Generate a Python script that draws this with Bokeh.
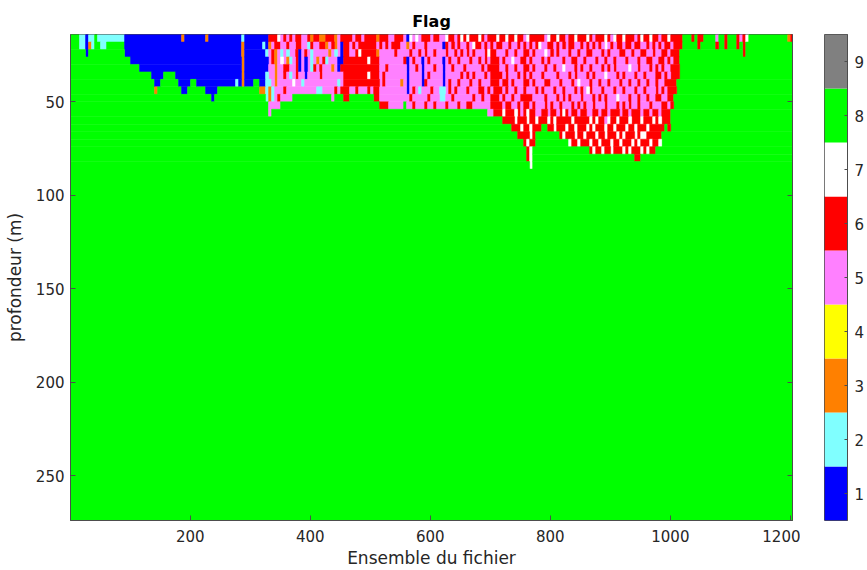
import numpy as np
from bokeh.plotting import figure
from bokeh.models import Range1d, FixedTicker, LinearAxis, ColumnDataSource
from bokeh.layouts import row
from bokeh.embed import file_html
from bokeh.resources import INLINE

# Flag classes and their colours
FLAG_VALUES = [1, 2, 3, 4, 5, 6, 7, 8, 9]
FLAG_COLORS = ["#0000ff", "#80ffff", "#ff8000", "#ffff00", "#ff80ff",
               "#ff0000", "#ffffff", "#00ff00", "#808080"]

# Grid layout: ensembles grouped 5 by 5, depth bins of 4 m from 14 m
FIRST_EDGE = 0.5
LAST_EDGE = 1203.5
ENSEMBLES_PER_CELL = 5
DEPTH_TOP = 14.0
DEPTH_BOTTOM = 274.0
BIN_SIZE = 4.0
N_BINS = 65
N_UPPER = 18
FILL_FLAG = 8

X_TICKS = [200, 400, 600, 800, 1000, 1200]
Y_TICKS = [50, 100, 150, 200, 250]

# Upper bins (one string per 4 m bin, one digit per cell), per longitudinal block.
# Missing rows / trailing cells are flag 8.
WEST_BINS = [  # cells 0-65
    "88822 12282 22222 2221 11111 11111 11111 11131 11111 13111 11111 11121 11111 11",
    "88822 13288 22888 8881 11111 11111 11111 11111 11111 11111 11111 11131 11111 21",
    "88888 18888 88888 8881 11111 11111 11111 11111 11111 11111 11111 11131 11111 12",
    "88888 88888 88888 8888 81111 11111 11111 11111 11111 11111 11111 11131 11111 11",
    "88888 88888 88888 8888 88881 11111 11111 11111 11111 11111 11111 11131 11111 11",
    "88888 88888 88888 8888 88888 88811 11888 81111 11111 11111 11111 11131 11111 12",
    "88888 88888 88888 8888 88888 88881 18888 88111 18811 11111 11111 12131 11881 12",
    "88888 88888 88888 8888 88888 88883 88888 88811 88888 81111 88888 88888 88883 32",
    "88888 88888 88888 8888 88888 88888 88888 88888 88888 88818 88888 88888 88888 82",
]
TRANSITION_BINS = [  # cells 66-86
    "66675 65656 65563 66336 6",
    "35665 56556 65526 55663 5",
    "56352 52556 15652 55555 3",
    "56357 53256 15152 53562 5",
    "55355 66556 15152 65655 5",
    "55355 65256 55155 55655 5",
    "25355 55575 52555 55555 5",
    "32555 65555 55555 52255 5",
    "32565 55588 88888 88888 8",
    "55558 88888 88888 88888 8",
    "58888 88888 88888 88888 8",
]
CENTRAL_BINS = [  # cells 87-130
    "63566 66566 56666 36665 56665 17575 66656 65576 6567",
    "63516 65656 66666 56565 66655 35655 56555 55165 6565",
    "52516 65567 66666 35555 56555 56556 56556 55565 5656",
    "55116 66666 66766 65555 55556 15655 15655 55156 5565",
    "35166 66666 66666 65565 55555 15565 15556 55155 6555",
    "55556 66666 66766 65655 55555 15555 15655 55155 5556",
    "55256 66666 66666 65655 55535 15555 16555 55156 5565",
    "56566 65565 55656 65555 55555 15652 55565 52256 5655",
    "58886 68888 88886 65555 55555 56555 55655 52255 6555",
    "88888 88888 88888 86665 55558 55655 56556 55565 5565",
]
DEEP_BINS = [  # cells 131-203
    "67666 76566 67667 66766 57666 66576 67665 66766 67656 66765 76676 66567 66766 56676 666",
    "56576 65656 56655 65565 65656 75566 56565 66556 56565 65756 56656 65665 56565 65665 666",
    "56565 55676 65556 55655 66565 55756 56555 65565 56655 56565 55665 56556 65565 56656 668",
    "55655 65656 66565 57556 65655 56565 55565 56655 65556 55655 65556 55565 56655 66565 668",
    "65555 56566 66556 55655 66565 55655 65575 55656 55655 56565 65555 75565 55656 56556 668",
    "56565 55656 66656 55565 65655 56555 56555 65655 56565 55755 56565 55655 65556 65656 668",
    "55655 65556 66566 56555 66565 55665 55655 56575 55655 65565 55655 65565 56556 55666 688",
    "56555 66565 66656 55655 65556 56555 65565 55656 57655 56555 65565 55655 65556 56566 688",
    "55565 56556 66565 56556 66655 55655 56565 65556 55565 65655 57555 65565 56556 65566 888",
    "56655 55556 66656 65565 66565 55656 55655 56565 65565 55655 56565 65565 55655 56656 888",
    "88888 88855 66676 66765 67665 56656 65676 56656 65566 56656 66566 56665 66566 56668 888",
    "88888 88888 88866 66766 67667 66676 76666 67666 66767 66576 67666 76667 66676 76668 888",
    "88888 88888 88888 86667 66766 68866 76667 66766 67676 66766 76667 66766 67666 66868 888",
    "88888 88888 88888 88866 66768 88888 88676 66766 76667 66766 67676 66767 76666 68888 888",
    "88888 88888 88888 88888 67668 88888 88888 76676 66766 76667 66766 67676 66766 78888 888",
    "88888 88888 88888 88888 86788 88888 88888 88888 88676 67667 66676 76667 67668 88888 888",
    "88888 88888 88888 88888 86788 88888 88888 88888 88888 88888 88888 88668 88888 88888 888",
    "88888 88888 88888 88888 88788 88888 88888 88888 88888 88888 88888 88888 88888 88888 888",
]
EAST_BINS = [  # cells 204-240
    "88868 66888 85886 88865 67888 88888 88888 36",
    "88888 68888 86886 88868 68888 88888 88888 88",
    "88888 88888 88888 88888 68888 88888 88888 88",
]
BLOCKS = [(WEST_BINS, 66), (TRANSITION_BINS, 21), (CENTRAL_BINS, 44),
          (DEEP_BINS, 73), (EAST_BINS, 37)]

FONT = "DejaVu Sans"
TEXT_COLOR = "#262626"
FRAME_COLOR = "#4d4d4d"


def block_rows(rows, width):
    out = []
    for k in range(N_UPPER):
        s = rows[k].replace(" ", "") if k < len(rows) else ""
        out.append((s + str(FILL_FLAG) * width)[:width])
    return out


n_cells = sum(w for _, w in BLOCKS)
grid = np.full((N_BINS, n_cells), FILL_FLAG, dtype=int)
expanded = [block_rows(rows, w) for rows, w in BLOCKS]
for r in range(N_UPPER):
    line = "".join(b[r] for b in expanded)
    grid[r] = [int(ch) for ch in line]

# run-length rectangles per bin, merged downwards when a run repeats exactly
open_runs = {}
rects = []
for r in range(N_BINS):
    vals = grid[r]
    runs = []
    c0 = 0
    for c in range(1, n_cells + 1):
        if c == n_cells or vals[c] != vals[c0]:
            runs.append((c0, c, int(vals[c0])))
            c0 = c
    new_open = {}
    for key in runs:
        if key in open_runs:
            rect = open_runs.pop(key)
            rect[3] = r + 1
        else:
            rect = [key[0], key[1], r, r + 1, key[2]]
            rects.append(rect)
        new_open[key] = rect
    open_runs = new_open

cells = ColumnDataSource(dict(
    left=[FIRST_EDGE + a * ENSEMBLES_PER_CELL for a, _, _, _, _ in rects],
    right=[FIRST_EDGE + b * ENSEMBLES_PER_CELL for _, b, _, _, _ in rects],
    top=[DEPTH_TOP + r0 * BIN_SIZE for _, _, r0, _, _ in rects],
    bottom=[DEPTH_TOP + r1 * BIN_SIZE for _, _, _, r1, _ in rects],
    color=[FLAG_COLORS[f - 1] for _, _, _, _, f in rects],
))

p = figure(width=800, height=570, title="Flag",
           x_range=Range1d(FIRST_EDGE, LAST_EDGE),
           y_range=Range1d(DEPTH_BOTTOM, DEPTH_TOP),
           output_backend="svg", toolbar_location=None,
           min_border_left=70, min_border_right=8,
           min_border_top=34, min_border_bottom=49)
p.quad(left="left", right="right", top="top", bottom="bottom",
       fill_color="color", line_color="color", line_width=0.5, source=cells)

p.title.align = "center"
p.title.text_font = FONT
p.title.text_font_size = "16px"
p.title.text_font_style = "bold"
p.title.text_color = "#000000"
p.title.standoff = 8
p.grid.visible = False
p.outline_line_color = FRAME_COLOR
p.background_fill_color = "#ffffff"

p.xaxis.ticker = FixedTicker(ticks=X_TICKS)
p.yaxis.ticker = FixedTicker(ticks=Y_TICKS)
p.xaxis.axis_label = "Ensemble du fichier"
p.yaxis.axis_label = "profondeur (m)"
for ax in (p.xaxis[0], p.yaxis[0]):
    ax.major_tick_in = 5
    ax.major_tick_out = 0
    ax.minor_tick_line_color = None
    ax.axis_line_color = FRAME_COLOR
    ax.major_tick_line_color = FRAME_COLOR
    ax.major_label_text_font = FONT
    ax.major_label_text_font_size = "15px"
    ax.major_label_text_color = TEXT_COLOR
    ax.axis_label_text_font = FONT
    ax.axis_label_text_font_size = "17px"
    ax.axis_label_text_font_style = "normal"
    ax.axis_label_text_color = TEXT_COLOR
p.xaxis.major_label_standoff = 9
p.xaxis.axis_label_standoff = 3
p.yaxis.major_label_standoff = 6
p.yaxis.axis_label_standoff = 8

# tick marks on the right edge of the frame (no labels drawn)
right_ticks = LinearAxis(ticker=FixedTicker(ticks=Y_TICKS), major_tick_in=5,
                         major_tick_out=0, minor_tick_line_color=None,
                         major_label_text_font_size="1px", major_label_text_color=None,
                         major_label_text_alpha=0, major_label_standoff=0,
                         axis_line_color=FRAME_COLOR, major_tick_line_color=FRAME_COLOR)
p.add_layout(right_ticks, "right")

# colour scale
cb = figure(width=67, height=570,
            x_range=Range1d(0, 1), y_range=Range1d(0.5, 9.5),
            output_backend="svg", toolbar_location=None,
            x_axis_location=None, y_axis_location="right",
            min_border_left=24, min_border_right=18,
            min_border_top=34, min_border_bottom=49)
cb.quad(left=0, right=1,
        bottom=[v - 0.5 for v in FLAG_VALUES], top=[v + 0.5 for v in FLAG_VALUES],
        fill_color=FLAG_COLORS, line_color=None)
cb.grid.visible = False
cb.outline_line_color = FRAME_COLOR
cb.yaxis.ticker = FixedTicker(ticks=FLAG_VALUES)
cb.yaxis.major_tick_in = 3
cb.yaxis.major_tick_out = 0
cb.yaxis.minor_tick_line_color = None
cb.yaxis.axis_line_color = FRAME_COLOR
cb.yaxis.major_tick_line_color = FRAME_COLOR
cb.yaxis.major_label_standoff = 7
cb.yaxis.major_label_text_font = FONT
cb.yaxis.major_label_text_font_size = "15px"
cb.yaxis.major_label_text_color = TEXT_COLOR

layout = row(p, cb)
open("out.html", "w").write(file_html(layout, INLINE))
